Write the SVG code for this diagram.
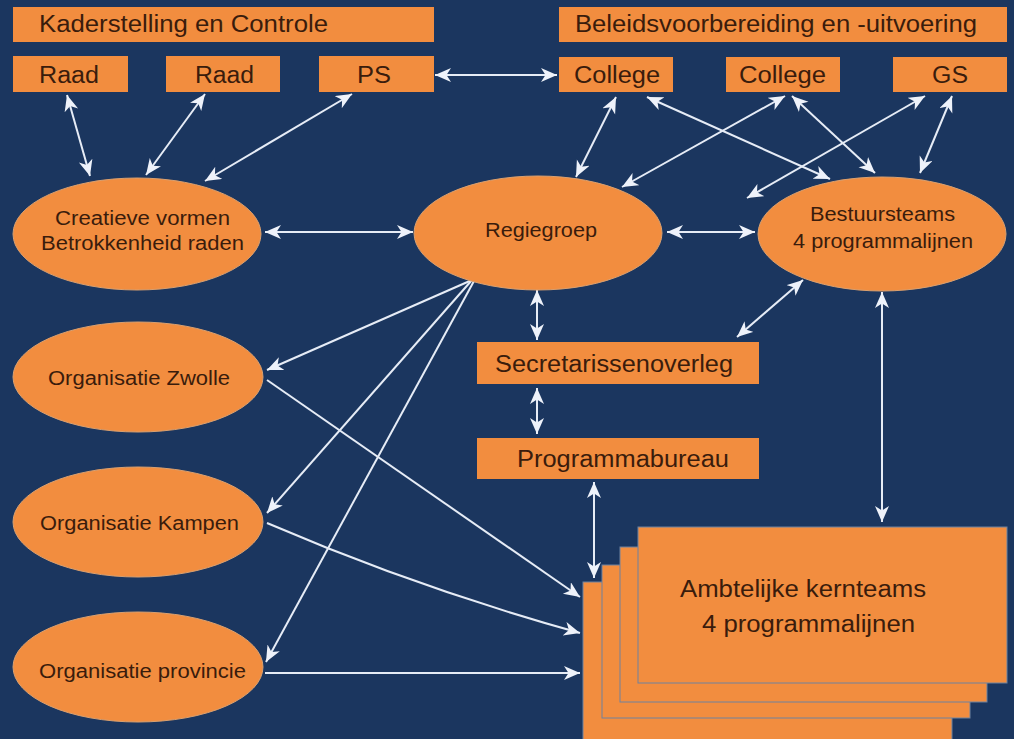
<svg xmlns="http://www.w3.org/2000/svg" width="1014" height="739" viewBox="0 0 1014 739">
  <defs>
    <marker id="ah" markerUnits="userSpaceOnUse" markerWidth="18" markerHeight="16" refX="16" refY="7" orient="auto-start-reverse" viewBox="0 0 18 16">
      <path d="M0,0 L16,7 L0,14 L4.5,7 z" fill="#eef2fa"/>
    </marker>
    <style>
      .bg { fill: #1b365f; }
      .box { fill: #f28d3f; }
      .ell { fill: #f28d3f; stroke: #d9a070; stroke-width: 1; }
      .stack { fill: #f28d3f; stroke: #6f82a0; stroke-width: 1; }
      .t { font-family: "Liberation Sans", Arial, sans-serif; fill: #3a1c0c; }
      .big { font-size: 23px; }
      .med { font-size: 20px; }
      .c { fill: none; stroke: #e6ecf6; stroke-width: 2; }
      .bi { marker-start: url(#ah); marker-end: url(#ah); }
      .one { marker-end: url(#ah); }
    </style>
  </defs>
  <rect class="bg" x="0" y="0" width="1014" height="739"/>

  <g id="connectors">
    <path class="c bi" d="M67,95 L90,176"/>
    <path class="c bi" d="M205,94 L146,175"/>
    <path class="c bi" d="M352,94 L205,181"/>
    <path class="c bi" d="M435,75 L557,75"/>
    <path class="c bi" d="M616,97 L576,177"/>
    <path class="c bi" d="M647,97 L830,179"/>
    <path class="c bi" d="M785,96 L622,187"/>
    <path class="c bi" d="M792,96 L875,173"/>
    <path class="c bi" d="M925,96 L747,198"/>
    <path class="c bi" d="M952,96 L920,173"/>
    <path class="c bi" d="M265,232 L413,232"/>
    <path class="c bi" d="M667,232 L755,232"/>
    <path class="c bi" d="M537,290 L537,340"/>
    <path class="c bi" d="M803,280 L737,337"/>
    <path class="c bi" d="M537,388 L537,434"/>
    <path class="c bi" d="M594,482 L594,578"/>
    <path class="c bi" d="M882,292 L882,522"/>
    <path class="c one" d="M472,280 L267,370"/>
    <path class="c one" d="M472,280 L267,513"/>
    <path class="c one" d="M474,281 L266,662"/>
    <path class="c one" d="M267,380 L580,597"/>
    <path class="c one" d="M267,523 Q418,588 580,633"/>
    <path class="c one" d="M265,673 L580,673"/>
  </g>

  <g id="kaderstelling">
    <rect class="box" x="13" y="7" width="421" height="35"/>
    <text class="t big" x="39" y="32" textLength="289" lengthAdjust="spacingAndGlyphs">Kaderstelling en Controle</text>
  </g>
  <g id="beleid">
    <rect class="box" x="559" y="7" width="448" height="35"/>
    <text class="t big" x="575" y="32" textLength="402" lengthAdjust="spacingAndGlyphs">Beleidsvoorbereiding en -uitvoering</text>
  </g>
  <g id="raad1">
    <rect class="box" x="13" y="56" width="115" height="36"/>
    <text class="t big" x="39" y="83" textLength="60" lengthAdjust="spacingAndGlyphs">Raad</text>
  </g>
  <g id="raad2">
    <rect class="box" x="166" y="56" width="114" height="36"/>
    <text class="t big" x="195" y="83" textLength="59" lengthAdjust="spacingAndGlyphs">Raad</text>
  </g>
  <g id="ps">
    <rect class="box" x="319" y="56" width="115" height="36"/>
    <text class="t big" x="357" y="83" textLength="34" lengthAdjust="spacingAndGlyphs">PS</text>
  </g>
  <g id="college1">
    <rect class="box" x="559" y="57" width="114" height="35"/>
    <text class="t big" x="574" y="83" textLength="86" lengthAdjust="spacingAndGlyphs">College</text>
  </g>
  <g id="college2">
    <rect class="box" x="726" y="57" width="114" height="35"/>
    <text class="t big" x="739" y="83" textLength="87" lengthAdjust="spacingAndGlyphs">College</text>
  </g>
  <g id="gs">
    <rect class="box" x="893" y="57" width="114" height="35"/>
    <text class="t big" x="932" y="83" textLength="36" lengthAdjust="spacingAndGlyphs">GS</text>
  </g>

  <g id="creatieve">
    <ellipse class="ell" cx="137" cy="234" rx="124" ry="56"/>
    <text class="t med" x="55" y="225" textLength="175" lengthAdjust="spacingAndGlyphs">Creatieve vormen</text>
    <text class="t med" x="41" y="250" textLength="203" lengthAdjust="spacingAndGlyphs">Betrokkenheid raden</text>
  </g>
  <g id="regiegroep">
    <ellipse class="ell" cx="538" cy="233" rx="124" ry="57"/>
    <text class="t med" x="485" y="237" textLength="112" lengthAdjust="spacingAndGlyphs">Regiegroep</text>
  </g>
  <g id="bestuursteams">
    <ellipse class="ell" cx="882" cy="234" rx="124" ry="57"/>
    <text class="t med" x="810" y="221" textLength="145" lengthAdjust="spacingAndGlyphs">Bestuursteams</text>
    <text class="t med" x="793" y="248" textLength="180" lengthAdjust="spacingAndGlyphs">4 programmalijnen</text>
  </g>
  <g id="zwolle">
    <ellipse class="ell" cx="138" cy="377" rx="125" ry="55"/>
    <text class="t med" x="48" y="385" textLength="182" lengthAdjust="spacingAndGlyphs">Organisatie Zwolle</text>
  </g>
  <g id="kampen">
    <ellipse class="ell" cx="138" cy="522" rx="125" ry="55"/>
    <text class="t med" x="40" y="530" textLength="199" lengthAdjust="spacingAndGlyphs">Organisatie Kampen</text>
  </g>
  <g id="provincie">
    <ellipse class="ell" cx="138" cy="667" rx="125" ry="55"/>
    <text class="t med" x="39" y="678" textLength="207" lengthAdjust="spacingAndGlyphs">Organisatie provincie</text>
  </g>
  <g id="secretarissenoverleg">
    <rect class="box" x="477" y="342" width="282" height="42"/>
    <text class="t big" x="495" y="372" textLength="238" lengthAdjust="spacingAndGlyphs">Secretarissenoverleg</text>
  </g>
  <g id="programmabureau">
    <rect class="box" x="477" y="438" width="282" height="41"/>
    <text class="t big" x="517" y="467" textLength="212" lengthAdjust="spacingAndGlyphs">Programmabureau</text>
  </g>
  <g id="ambtelijke">
    <rect class="stack" x="583" y="582" width="369" height="160"/>
    <rect class="stack" x="602" y="565" width="368" height="153"/>
    <rect class="stack" x="620" y="547" width="367" height="155"/>
    <rect class="stack" x="638" y="527" width="369" height="156"/>
    <text class="t big" x="680" y="597" textLength="246" lengthAdjust="spacingAndGlyphs">Ambtelijke kernteams</text>
    <text class="t big" x="702" y="632" textLength="213" lengthAdjust="spacingAndGlyphs">4 programmalijnen</text>
  </g>
</svg>
